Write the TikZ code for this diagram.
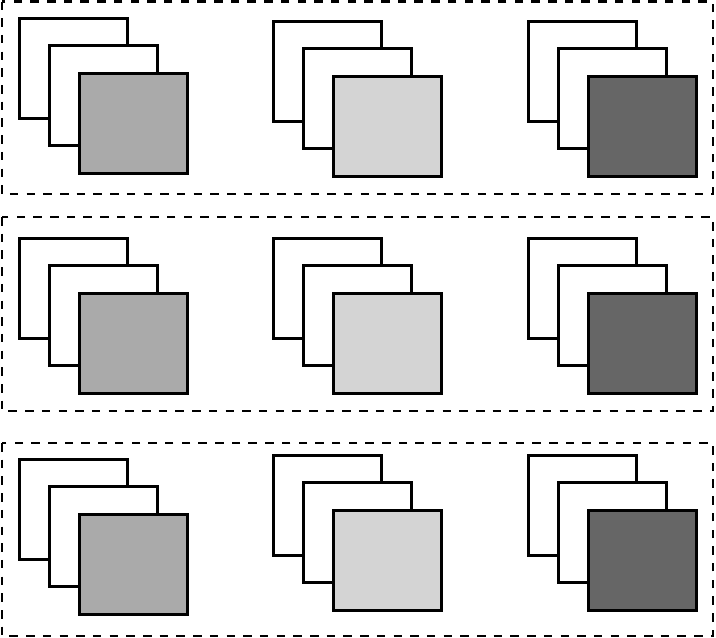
\documentclass[tikz,border=0pt]{standalone}
\definecolor{fillA}{HTML}{AAAAAA}
\definecolor{fillB}{HTML}{D4D4D4}
\definecolor{fillC}{HTML}{666666}
\tikzset{
  groupbox/.style={draw=black, line width=2.8pt, dash pattern=on 8.5pt off 8.2pt},
  sheet/.style={draw=black, line width=3pt, fill=white},
}
\newcommand{\stackat}[3]{%
  \draw[sheet] (#1,#2) rectangle ++(108.5,100);
  \draw[sheet] (#1+30,#2+27.5) rectangle ++(108.5,100);
  \draw[sheet, fill=#3] (#1+60,#2+55) rectangle ++(108.5,100);
}
\begin{document}
\begin{tikzpicture}[x=1pt,y=-1pt]
\useasboundingbox (0,0) rectangle (716,638);
\draw[groupbox] (2,1.5) rectangle (713,194);
\draw[groupbox] (2,217) rectangle (713,411);
\draw[groupbox] (2,443) rectangle (713,636);
% row 1
\stackat{19}{18}{fillA}
\stackat{273}{21}{fillB}
\stackat{528}{21}{fillC}
% row 2
\stackat{19}{238}{fillA}
\stackat{273}{238}{fillB}
\stackat{528}{238}{fillC}
% row 3
\stackat{19}{459}{fillA}
\stackat{273}{455}{fillB}
\stackat{528}{455}{fillC}
\end{tikzpicture}
\end{document}
